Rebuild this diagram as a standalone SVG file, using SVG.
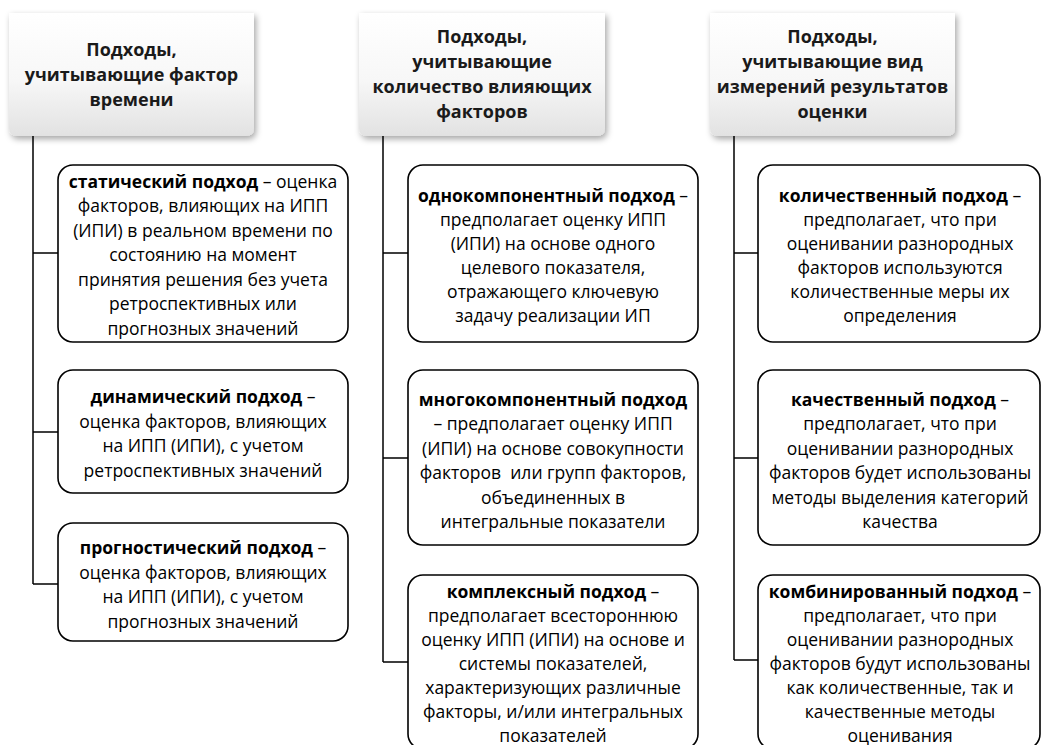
<svg xmlns="http://www.w3.org/2000/svg" width="1042" height="745" viewBox="0 0 1042 745">
<style>
.hdr{fill:url(#hg);filter:url(#sh)}
.ht{font-family:"Open Sans","Noto Sans",sans-serif;font-weight:bold;font-size:18px;fill:#1a1a1a;text-anchor:middle}
.box{fill:#fff;stroke:#000;stroke-width:1.6}
.bt{font-family:"Open Sans","Noto Sans",sans-serif;font-size:17.5px;fill:#000;text-anchor:middle}
.b{font-weight:bold}
.con{fill:none;stroke:#000;stroke-width:1.5}
</style>
<defs>
<linearGradient id="hg" x1="0" y1="0" x2="0" y2="1">
<stop offset="0" stop-color="#ffffff"/>
<stop offset="0.55" stop-color="#f7f7f7"/>
<stop offset="1" stop-color="#e2e2e2"/>
</linearGradient>
<filter id="sh" x="-10%" y="-10%" width="125%" height="130%">
<feDropShadow dx="2" dy="3" stdDeviation="3" flood-color="#000" flood-opacity="0.35"/>
</filter>
</defs>
<rect width="1042" height="745" fill="#fff"/>
<g id="connectors">
<path class="con" d="M33 136V584M33 253H58M33 432H58M33 584H58"/>
<path class="con" d="M383 136V662M383 253H408M383 458H408M383 662H408"/>
<path class="con" d="M734 136V660M734 253H758M734 458H758M734 660H758"/>
</g>
<g id="h1">
<path class="hdr" d="M9 13H254V128Q254 136 246 136H17Q9 136 9 128Z"/>
<text class="ht"><tspan x="131.5" y="56">Подходы,</tspan><tspan x="131.5" y="81">учитывающие фактор</tspan><tspan x="131.5" y="106">времени</tspan></text>
</g>
<g id="h2">
<path class="hdr" d="M359 13H605V128Q605 136 597 136H367Q359 136 359 128Z"/>
<text class="ht"><tspan x="482" y="43">Подходы,</tspan><tspan x="482" y="68">учитывающие</tspan><tspan x="482" y="93">количество влияющих</tspan><tspan x="482" y="118">факторов</tspan></text>
</g>
<g id="h3">
<path class="hdr" d="M710 13H955V128Q955 136 947 136H718Q710 136 710 128Z"/>
<text class="ht"><tspan x="832.5" y="43">Подходы,</tspan><tspan x="832.5" y="68">учитывающие вид</tspan><tspan x="832.5" y="93">измерений результатов</tspan><tspan x="832.5" y="118">оценки</tspan></text>
</g>
<g id="n1">
<rect class="box" x="58" y="165" width="290" height="177" rx="15"/>
<text class="bt"><tspan x="203" y="187.5"><tspan class="b">статический подход</tspan> – оценка</tspan><tspan x="203" y="212">факторов, влияющих на ИПП</tspan><tspan x="203" y="236.5">(ИПИ) в реальном времени по</tspan><tspan x="203" y="261">состоянию на момент</tspan><tspan x="203" y="285.5">принятия решения без учета</tspan><tspan x="203" y="310">ретроспективных или</tspan><tspan x="203" y="334.5">прогнозных значений</tspan></text>
</g>
<g id="n2">
<rect class="box" x="58" y="370" width="290" height="123" rx="15"/>
<text class="bt"><tspan x="203" y="403"><tspan class="b">динамический подход</tspan> –</tspan><tspan x="203" y="427.5">оценка факторов, влияющих</tspan><tspan x="203" y="452">на ИПП (ИПИ), с учетом</tspan><tspan x="203" y="476.5">ретроспективных значений</tspan></text>
</g>
<g id="n3">
<rect class="box" x="58" y="523" width="290" height="118" rx="15"/>
<text class="bt"><tspan x="203" y="554"><tspan class="b">прогностический подход</tspan> –</tspan><tspan x="203" y="578.5">оценка факторов, влияющих</tspan><tspan x="203" y="603">на ИПП (ИПИ), с учетом</tspan><tspan x="203" y="627.5">прогнозных значений</tspan></text>
</g>
<g id="n4">
<rect class="box" x="408" y="165" width="290" height="177" rx="15"/>
<text class="bt"><tspan x="553" y="202"><tspan class="b">однокомпонентный подход</tspan> –</tspan><tspan x="553" y="226">предполагает оценку ИПП</tspan><tspan x="553" y="250">(ИПИ) на основе одного</tspan><tspan x="553" y="274">целевого показателя,</tspan><tspan x="553" y="298">отражающего ключевую</tspan><tspan x="553" y="322">задачу реализации ИП</tspan></text>
</g>
<g id="n5">
<rect class="box" x="408" y="370" width="290" height="175" rx="15"/>
<text class="bt" xml:space="preserve"><tspan x="553" y="405.5"><tspan class="b">многокомпонентный подход</tspan></tspan><tspan x="553" y="430">– предполагает оценку ИПП</tspan><tspan x="553" y="454.5">(ИПИ) на основе совокупности</tspan><tspan x="553" y="479">факторов  или групп факторов,</tspan><tspan x="553" y="503.5">объединенных в</tspan><tspan x="553" y="528">интегральные показатели</tspan></text>
</g>
<g id="n6">
<rect class="box" x="408" y="575" width="290" height="174" rx="15"/>
<text class="bt"><tspan x="553" y="598"><tspan class="b">комплексный подход</tspan> –</tspan><tspan x="553" y="622">предполагает всестороннюю</tspan><tspan x="553" y="646">оценку ИПП (ИПИ) на основе и</tspan><tspan x="553" y="670">системы показателей,</tspan><tspan x="553" y="694">характеризующих различные</tspan><tspan x="553" y="718">факторы, и/или интегральных</tspan><tspan x="553" y="742">показателей</tspan></text>
</g>
<g id="n7">
<rect class="box" x="758" y="165" width="282" height="177" rx="15"/>
<text class="bt"><tspan x="900" y="202"><tspan class="b">количественный подход</tspan> –</tspan><tspan x="900" y="226">предполагает, что при</tspan><tspan x="900" y="250">оценивании разнородных</tspan><tspan x="900" y="274">факторов используются</tspan><tspan x="900" y="298">количественные меры их</tspan><tspan x="900" y="322">определения</tspan></text>
</g>
<g id="n8">
<rect class="box" x="758" y="370" width="282" height="175" rx="15"/>
<text class="bt"><tspan x="900" y="405.5"><tspan class="b">качественный подход</tspan> –</tspan><tspan x="900" y="430">предполагает, что при</tspan><tspan x="900" y="454.5">оценивании разнородных</tspan><tspan x="900" y="479">факторов будет использованы</tspan><tspan x="900" y="503.5">методы выделения категорий</tspan><tspan x="900" y="528">качества</tspan></text>
</g>
<g id="n9">
<rect class="box" x="758" y="575" width="282" height="174" rx="15"/>
<text class="bt"><tspan x="900" y="598"><tspan class="b">комбинированный подход</tspan> –</tspan><tspan x="900" y="622">предполагает, что при</tspan><tspan x="900" y="646">оценивании разнородных</tspan><tspan x="900" y="670">факторов будут использованы</tspan><tspan x="900" y="694">как количественные, так и</tspan><tspan x="900" y="718">качественные методы</tspan><tspan x="900" y="742">оценивания</tspan></text>
</g>
</svg>
